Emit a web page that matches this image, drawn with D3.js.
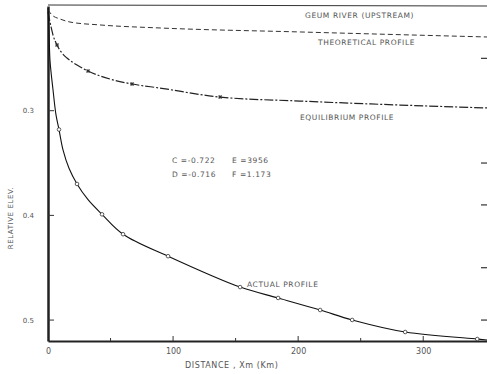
<!DOCTYPE html>
<html>
<head>
<meta charset="utf-8">
<script src="https://cdn.jsdelivr.net/npm/d3@7"></script>
<style>
  body { margin: 0; background: #fff; }
  text { font-family: "DejaVu Sans", sans-serif; fill: #555; }
</style>
</head>
<body>
<script>
const actualKm  = [0, 0.8, 1.6, 4, 6.4, 8.8, 12, 16.8, 23.2, 32, 43.2, 60, 96, 153.6, 184, 217.6, 243.2, 285.6, 343.2, 351.2];
const actualVal = [0.202, 0.223, 0.252, 0.280, 0.304, 0.318, 0.3375, 0.355, 0.370, 0.385, 0.399, 0.418, 0.439, 0.4685, 0.4789, 0.4904, 0.4999, 0.5114, 0.5181, 0.519];
const actualMarkKm  = [8.8, 23.2, 43.2, 60, 96, 153.6, 184, 217.6, 243.2, 285.6, 343.2];
const actualMarkVal = [0.318, 0.370, 0.399, 0.418, 0.439, 0.4685, 0.4789, 0.4904, 0.4999, 0.5114, 0.5181];

const equilKm  = [0, 1.6, 4, 7.2, 11.2, 15.2, 23.2, 32, 49.6, 67.2, 89.6, 137.6, 201.6, 281.6, 351.2];
const equilVal = [0.2057, 0.2153, 0.2277, 0.2373, 0.2449, 0.2497, 0.2564, 0.2621, 0.2698, 0.2745, 0.2784, 0.287, 0.2908, 0.2946, 0.2974];
const equilMarkKm  = [7.2, 32, 67.2, 137.6];
const equilMarkVal = [0.2373, 0.2621, 0.2745, 0.287];

const theoKm  = [0, 3.2, 9.6, 17.6, 41.6, 89.6, 201.6, 351.2];
const theoVal = [0.2038, 0.2086, 0.2124, 0.2153, 0.2181, 0.221, 0.2248, 0.2296];

const xTicks = [0, 100, 200, 300];
const xMinor = [50, 150, 250];
const yTicks = [0.3, 0.4, 0.5];
const yRightTicks = [0.25, 0.35, 0.39, 0.45, 0.5];

const W = 487, H = 374;
const svg = d3.select("body").append("svg")
    .attr("width", W)
    .attr("height", H);

const x = d3.scaleLinear().domain([0, 351]).range([48, 487]);
const y = d3.scaleLinear().domain([0.2, 0.52]).range([6, 341]);

const line = d3.line()
    .x(d => x(d[0]))
    .y(d => y(d[1]))
    .curve(d3.curveMonotoneX);

const smooth = d3.line()
    .x(d => x(d[0]))
    .y(d => y(d[1]))
    .curve(d3.curveCatmullRom.alpha(0.5));

const zip = (a, b) => a.map((v, i) => [v, b[i]]);

// frame: top rule, left and bottom axes
svg.append("line")
    .attr("x1", x(0)).attr("x2", x(351))
    .attr("y1", y(0.2) - 1).attr("y2", y(0.2))
    .attr("stroke", "#333").attr("stroke-width", 1);

svg.append("g")
    .attr("transform", `translate(0,${y(0.52)})`)
    .call(d3.axisBottom(x).tickValues(xTicks).tickSize(0).tickPadding(7).tickFormat(d3.format("d")))
    .call(g => g.select(".domain").attr("stroke", "#222").attr("stroke-width", 2))
    .call(g => g.selectAll("text").style("font-size", "8px").attr("fill", "#666"));

svg.append("g")
    .attr("transform", `translate(${x(0)},0)`)
    .call(d3.axisLeft(y).tickValues(yTicks).tickSize(0).tickPadding(14).tickFormat(d3.format(".1f")))
    .call(g => g.select(".domain").attr("stroke", "#222").attr("stroke-width", 2.5))
    .call(g => g.selectAll("text").style("font-size", "7px").attr("fill", "#777"));

// inner tick marks
svg.append("g").selectAll("line")
  .data(xTicks.slice(1).concat(xMinor))
  .join("line")
    .attr("x1", d => x(d)).attr("x2", d => x(d))
    .attr("y1", y(0.52)).attr("y2", d => y(0.52) - (d % 100 === 0 ? 5 : 3))
    .attr("stroke", "#333");

svg.append("g").selectAll("line")
  .data(yTicks)
  .join("line")
    .attr("x1", x(0)).attr("x2", x(0) + 6)
    .attr("y1", d => y(d)).attr("y2", d => y(d))
    .attr("stroke", "#333");

svg.append("g").selectAll("line")
  .data(yRightTicks)
  .join("line")
    .attr("x1", W - 6).attr("x2", W)
    .attr("y1", d => y(d)).attr("y2", d => y(d))
    .attr("stroke", "#333").attr("stroke-width", 1.2);

// curves
svg.append("path")
    .datum(zip(theoKm, theoVal))
    .attr("d", line)
    .attr("fill", "none").attr("stroke", "#333")
    .attr("stroke-width", 1).attr("stroke-dasharray", "5,3");

svg.append("path")
    .datum(zip(equilKm, equilVal))
    .attr("d", line)
    .attr("fill", "none").attr("stroke", "#222")
    .attr("stroke-width", 1.2).attr("stroke-dasharray", "9,2,2,2");

svg.append("path")
    .datum(zip(actualKm, actualVal))
    .attr("d", smooth)
    .attr("fill", "none").attr("stroke", "#111")
    .attr("stroke-width", 1.1);

// markers
svg.append("g").selectAll("circle")
  .data(zip(actualMarkKm, actualMarkVal))
  .join("circle")
    .attr("cx", d => x(d[0])).attr("cy", d => y(d[1]))
    .attr("r", 1.8)
    .attr("fill", "#fff").attr("stroke", "#333").attr("stroke-width", 0.8);

svg.append("g").selectAll("path")
  .data(zip(equilMarkKm, equilMarkVal))
  .join("path")
    .attr("d", d3.symbol(d3.symbolCross, 10))
    .attr("transform", d => `translate(${x(d[0])},${y(d[1])}) rotate(45)`)
    .attr("fill", "#333");

// labels
const label = (tx, ty, s, size = 7.5, anchor = "start") =>
  svg.append("text")
    .attr("x", tx).attr("y", ty)
    .attr("text-anchor", anchor)
    .style("font-size", size + "px")
    .style("letter-spacing", "0.6px")
    .text(s);

label(305, 18, "GEUM RIVER (UPSTREAM)");
label(318, 45, "THEORETICAL PROFILE");
label(300, 120, "EQUILIBRIUM PROFILE");
label(247, 287, "ACTUAL PROFILE");
label(172, 163, "C =-0.722", 7.5);
label(232, 163, "E =3956", 7.5);
label(172, 177, "D =-0.716", 7.5);
label(232, 177, "F =1.173", 7.5);

label(185, 368, "DISTANCE , Xm (Km)", 8);

svg.append("text")
    .attr("transform", "translate(13,218) rotate(-90)")
    .attr("text-anchor", "middle")
    .style("font-size", "7px")
    .style("letter-spacing", "0.6px")
    .attr("fill", "#888")
    .text("RELATIVE ELEV.");
</script>
</body>
</html>
